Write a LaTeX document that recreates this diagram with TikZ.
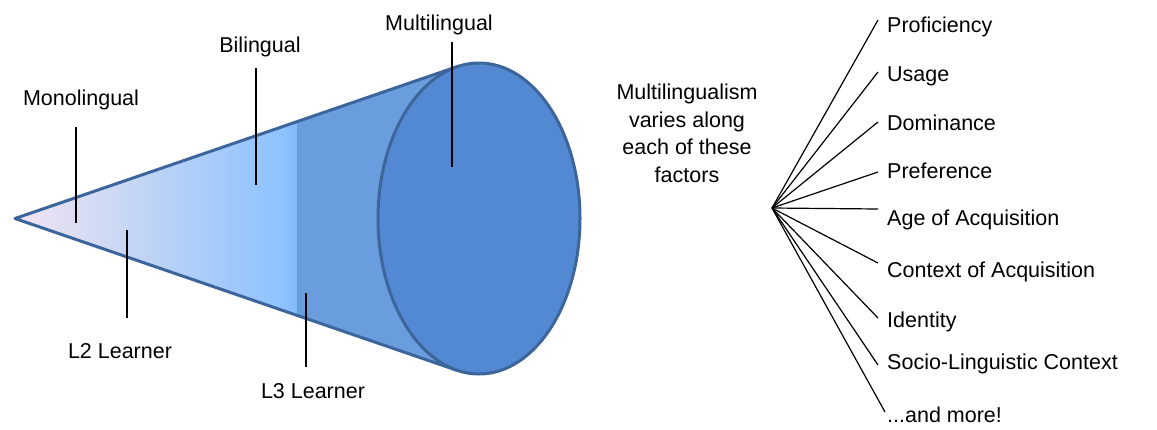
\documentclass[tikz,border=0pt]{standalone}
\usepackage{fontspec}
\setmainfont{Liberation Sans}
\definecolor{conepink}{RGB}{243,228,242}
\definecolor{conemid}{RGB}{190,212,245}
\definecolor{conelight}{RGB}{140,194,255}
\definecolor{conelightb}{RGB}{130,186,252}
\definecolor{conedark}{RGB}{106,157,222}
\definecolor{capfill}{RGB}{83,137,210}
\definecolor{coneedge}{RGB}{60,102,155}
\begin{document}
\begin{tikzpicture}[x=1pt,y=-1pt,
  lbl/.style={font=\fontsize{21.5}{27.5}\selectfont, inner sep=0pt, anchor=base},
  factor/.style={font=\fontsize{21.5}{27.5}\selectfont, inner sep=0pt, anchor=base west},
  tick/.style={line width=1.3pt, black},
  fan/.style={line width=1.2pt, black},
  edge/.style={line width=3pt, coneedge, line join=round}]
\useasboundingbox (0,0) rectangle (1157,429);
% cone
\coordinate (apex) at (15,218.5);
\coordinate (tt) at (457,66.7);
\coordinate (tb) at (457,370.3);
\begin{scope}
  \clip (apex) -- (tt) -- (tb) -- cycle;
  \shade[left color=conepink, right color=conelight, middle color=conemid] (15,50) rectangle (284,390);
  \shade[left color=conelight, right color=conelightb] (283.5,50) rectangle (297,390);
  \fill[conedark] (296.5,50) rectangle (480,390);
\end{scope}
\draw[edge] (tt) -- (apex) -- (tb);
\draw[edge, fill=capfill] (479,218.5) ellipse [x radius=101, y radius=155.5];
% labels on the cone
\node[lbl] (mono) at (81,105) {Monolingual};
\node[lbl] (bi) at (260,52) {Bilingual};
\node[lbl] (multi) at (439,30) {Multilingual};
\node[lbl] (l2) at (120,358) {L2 Learner};
\node[lbl] (l3) at (313,398) {L3 Learner};
\coordinate (monoA) at (76,127); \coordinate (monoB) at (76,223);
\coordinate (biA) at (256,68); \coordinate (biB) at (256,185);
\coordinate (multiA) at (452,42); \coordinate (multiB) at (452,167);
\coordinate (l2A) at (127,230); \coordinate (l2B) at (127,318);
\coordinate (l3A) at (306,293); \coordinate (l3B) at (306,367);
\draw[tick] (monoA) -- (monoB);
\draw[tick] (biA) -- (biB);
\draw[tick] (multiA) -- (multiB);
\draw[tick] (l2A) -- (l2B);
\draw[tick] (l3A) -- (l3B);
% right side
\node[font=\fontsize{21.5}{27.5}\selectfont, align=center, inner sep=0pt, anchor=base] (ml) at (687,182)
  {Multilingualism\\varies along\\each of these\\factors};
\coordinate (hub) at (772,208);
\node[factor] (f1) at (887,32) {Proficiency};
\node[factor] (f2) at (887,81) {Usage};
\node[factor] (f3) at (887,130) {Dominance};
\node[factor] (f4) at (887,178) {Preference};
\node[factor] (f5) at (887,225) {Age of Acquisition};
\node[factor] (f6) at (887,277) {Context of Acquisition};
\node[factor] (f7) at (887,327) {Identity};
\node[factor] (f8) at (887,369) {Socio-Linguistic Context};
\node[factor] (f9) at (887,422) {...and more!};
\coordinate (e1) at (878,20);
\coordinate (e2) at (878,72);
\coordinate (e3) at (878,122);
\coordinate (e4) at (878,172);
\coordinate (e5) at (878,209);
\coordinate (e6) at (878,263);
\coordinate (e7) at (878,318);
\coordinate (e8) at (878,365);
\coordinate (e9) at (885,412);
\foreach \i in {1,...,9} \draw[fan] (hub) -- (e\i);
\end{tikzpicture}
\end{document}
